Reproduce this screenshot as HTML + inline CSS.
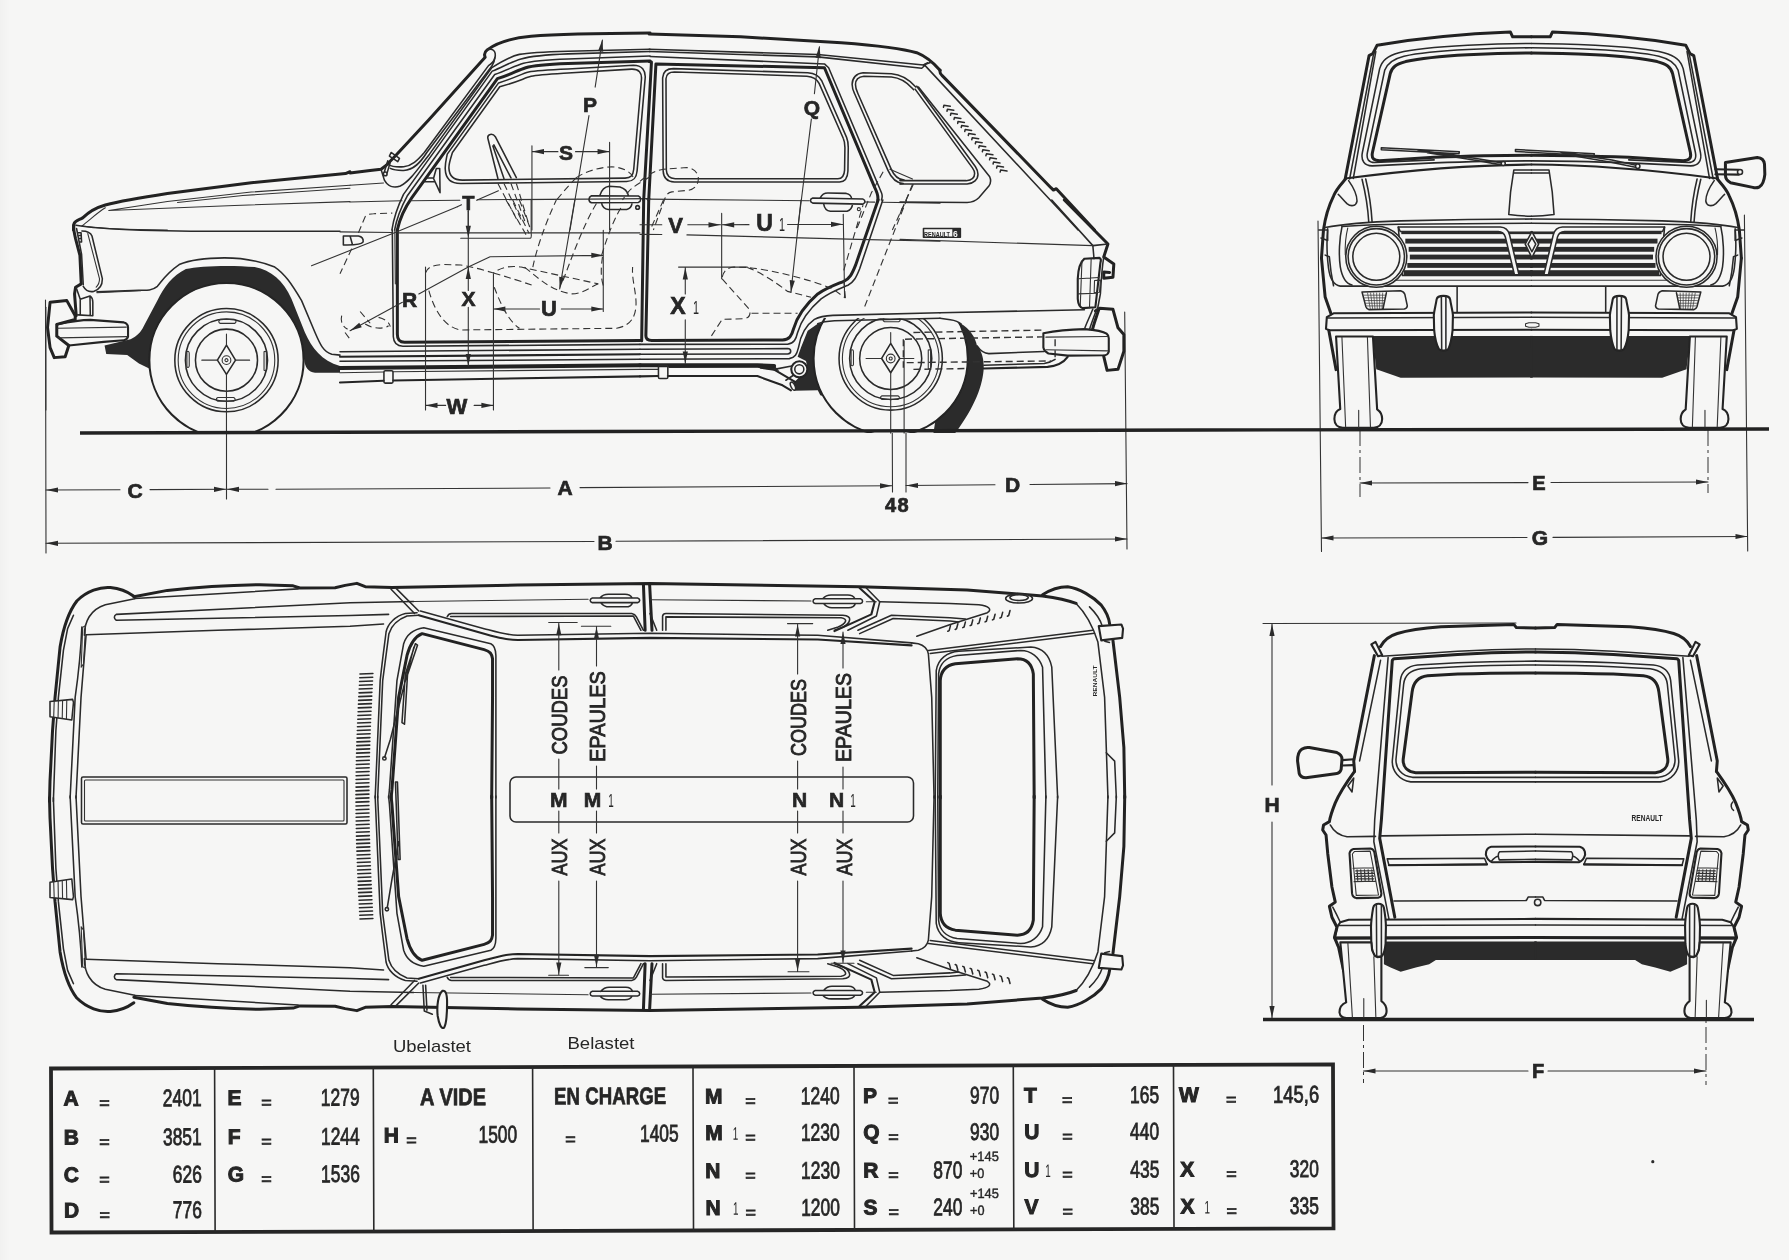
<!DOCTYPE html>
<html lang="fr">
<head>
<meta charset="utf-8">
<title>Renault 6 - dimensions</title>
<style>
html,body{margin:0;padding:0;background:#f6f6f5;}
body{width:1789px;height:1260px;overflow:hidden;}
svg{display:block;will-change:transform;}
svg *{vector-effect:non-scaling-stroke;}
.k{fill:none;stroke:#222;stroke-width:3;stroke-linecap:round;stroke-linejoin:round;}
.m{fill:none;stroke:#242424;stroke-width:2.1;stroke-linecap:round;stroke-linejoin:round;}
.n{fill:none;stroke:#2a2a2a;stroke-width:1.55;stroke-linecap:round;stroke-linejoin:round;}
.h{fill:none;stroke:#333;stroke-width:1.1;stroke-linecap:round;stroke-linejoin:round;}
.d{fill:none;stroke:#333;stroke-width:1.1;stroke-dasharray:7 4;}
.dd{fill:none;stroke:#333;stroke-width:1;stroke-dasharray:16 4 3 4;}
.f{fill:#2b2b2b;stroke:none;}
.w{fill:#f6f6f5;}
text{font-family:"Liberation Sans",sans-serif;fill:#262626;}
.b{font-weight:bold;stroke:#262626;stroke-width:0.7px;}
</style>
</head>
<body>
<svg width="1789" height="1260" viewBox="0 0 1789 1260">
<defs>
<path id="ar" d="M0,0 L-12,-2.6 L-12,2.6 Z"/>
<g id="wh">
<circle cx="0" cy="0" r="308" class="n"/>
<circle cx="0" cy="0" r="288" class="h"/>
<circle cx="0" cy="0" r="245" class="n"/>
<circle cx="0" cy="0" r="185" class="n"/>
<circle cx="0" cy="0" r="26" class="h"/>
<circle cx="0" cy="0" r="9" class="h"/>
<path class="n" d="M0,-90 L54,0 L0,85 L-54,0 Z"/>
<path class="h" d="M-147,0 L-54,0 M54,0 L138,0 M0,-155 L0,-90"/>
<path class="h" d="M-37,-243 L48,-243 C60,-237 60,-225 48,-219 L-37,-219 C-49,-225 -49,-237 -37,-243 Z M-52,223 L43,223 C55,229 55,240 43,245 L-52,245 C-64,240 -64,229 -52,223 Z M-236,-50 C-227,-55 -222,-50 -222,-40 L-222,35 C-224,45 -232,45 -236,40 Z M224,-50 C233,-55 238,-50 238,-40 L238,55 C236,65 228,65 224,60 Z"/>
</g>
</defs>
<rect x="0" y="0" width="1789" height="1260" fill="#f6f6f5"/>
<!-- 10_dims.svg -->
<g id="dims">
<!-- side view dimension lines -->
<path class="h" d="M45.5,300 L46,553"/>
<path class="h" d="M226.5,360 L226.5,499"/>
<path class="h" d="M892,360 L892.5,492"/>
<path class="h" d="M906,340 L906,492"/>
<path class="h" d="M1124.7,312 L1127,549"/>
<path class="h" d="M46,490 L120,489.7 M150,489.6 L226,489.3 M227,489.3 L268,489.2 M276,489.2 L550,488 M580,487.6 L892,485.8 M906,485.5 L995,484.8 M1030,484.5 L1127,483.6"/>
<path class="h" d="M46,543.3 L594,541.5 M616,541.3 L1127,539"/>
<g class="f">
<use href="#ar" transform="translate(46,490) rotate(180)"/>
<use href="#ar" transform="translate(226,489.3)"/>
<use href="#ar" transform="translate(227,489.3) rotate(180)"/>
<use href="#ar" transform="translate(892,485.8)"/>
<use href="#ar" transform="translate(906,485.5) rotate(180)"/>
<use href="#ar" transform="translate(1127,483.6)"/>
<use href="#ar" transform="translate(46,543.3) rotate(180)"/>
<use href="#ar" transform="translate(1127,539)"/>
</g>
<text class="b" x="135" y="497.5" font-size="21" text-anchor="middle">C</text>
<text class="b" x="565" y="495" font-size="21" text-anchor="middle">A</text>
<text class="b" x="1012.5" y="492" font-size="21" text-anchor="middle">D</text>
<text class="b" x="897.5" y="512" font-size="20" text-anchor="middle" letter-spacing="1.5">48</text>
<text class="b" x="605" y="550" font-size="21" text-anchor="middle">B</text>
<!-- front view dims -->
<path class="h" d="M1318,221 L1321.5,551.5"/>
<path class="h" d="M1744.4,215 L1747.7,551"/>
<path class="dd" d="M1360,430 L1360,497"/>
<path class="dd" d="M1708,430 L1708,493"/>
<path class="h" d="M1360,483 L1528,482.6 M1551,482.5 L1708,482"/>
<path class="h" d="M1321.5,538 L1527,537.5 M1553,537.4 L1747.5,536.5"/>
<g class="f">
<use href="#ar" transform="translate(1360,483) rotate(180)"/>
<use href="#ar" transform="translate(1708,482)"/>
<use href="#ar" transform="translate(1321.5,538) rotate(180)"/>
<use href="#ar" transform="translate(1747.5,536.5)"/>
</g>
<text class="b" x="1539" y="490" font-size="20" text-anchor="middle">E</text>
<text class="b" x="1540" y="545" font-size="21" text-anchor="middle">G</text>
<!-- rear view dims -->
<path class="h" d="M1263,623.5 L1516,623"/>
<path class="h" d="M1272,624 L1272,785 M1272,822 L1272,1018"/>
<path class="dd" d="M1363.5,998 L1363.5,1083"/>
<path class="dd" d="M1706,1000 L1706,1085"/>
<path class="h" d="M1363.5,1071 L1528,1071 M1548,1071 L1706,1071"/>
<g class="f">
<use href="#ar" transform="translate(1272,624) rotate(-90)"/>
<use href="#ar" transform="translate(1272,1018) rotate(90)"/>
<use href="#ar" transform="translate(1363.5,1071) rotate(180)"/>
<use href="#ar" transform="translate(1706,1071)"/>
</g>
<text class="b" x="1272" y="811.5" font-size="21" text-anchor="middle">H</text>
<text class="b" x="1538" y="1078" font-size="20" text-anchor="middle">F</text>
</g>
<defs><linearGradient id="lg" x1="0" x2="1" y1="0" y2="0"><stop offset="0" stop-color="#f1f1f0"/><stop offset="1" stop-color="#f6f6f5"/></linearGradient></defs>
<rect x="0" y="0" width="10" height="1260" fill="url(#lg)"/>
<circle cx="1652.8" cy="1161.7" r="1.6" class="f"/>

<!-- 20_side_a.svg -->
<!-- Z0: hood [50,20,350,230] -->
<g transform="translate(50,20) scale(0.16769)">
<path class="k" d="M1789,905 L1762,916 L1200,970 L700,1035 C550,1058 420,1080 330,1103 C270,1120 225,1150 195,1180 C175,1192 150,1195 143,1215 L140,1252"/>
<path class="h" d="M1789,985 L1200,1026 L700,1082 L350,1136 L1100,1106 L1789,1083"/>
<path class="h" d="M1789,1003 L1150,1047 L760,1088"/>
<path class="h" d="M330,1120 C280,1150 230,1200 190,1228 C300,1245 500,1250 700,1252"/>
</g>

<!-- 21_side_b.svg -->
<!-- Z1: A pillar [350,20,650,230] -->
<g transform="translate(350,20) scale(0.16769)">
<path class="k" d="M1789,78 C1500,80 1250,84 1080,97 C960,108 870,140 818,178 C800,192 800,208 806,222 L469,596 L274,806 L215,868 L185,890 L120,898 L0,912"/>
<path class="n" d="M818,178 C850,165 874,185 864,225 C858,250 842,262 826,272 L443,790 C400,840 370,868 320,875 C280,878 250,875 230,862"/>
<path class="n" d="M864,225 C862,250 852,264 845,276 L458,790 C420,850 380,895 320,897 C280,898 255,892 240,885"/>
<path class="n" d="M1789,175 L1300,186 C1150,190 1060,195 1010,205 C950,218 900,250 845,285 L474,800 C410,880 360,960 300,990 C260,1005 225,990 205,955 L185,890"/>
<path class="n" d="M1789,188 L1300,202 C1150,208 1070,218 1020,232 C965,248 920,275 848,305 L319,1040 C290,1100 262,1170 250,1252"/>
<path class="n" d="M1789,215 L1300,232 C1150,238 1080,245 1035,258 C985,272 940,298 863,325 L341,1050 C308,1110 279,1180 266,1252"/>
<path class="k" d="M1789,245 L1300,260 C1150,266 1090,272 1048,285 C1000,300 958,325 879,350 L368,1060 C326,1120 295,1190 282,1252"/>
<path class="n" d="M886,375 C985,345 1020,322 1065,310 C1110,300 1200,296 1300,292 L1690,270 C1740,270 1765,300 1760,350 L1712,900 C1708,945 1690,962 1650,963 L660,975 C600,975 570,945 568,890 C566,860 572,840 580,800 Z"/>
<path class="n" d="M893,398 C1005,368 1040,346 1080,336 C1120,326 1200,322 1300,316 L1680,293 C1722,292 1742,315 1738,355 L1692,890 C1688,928 1675,942 1640,943 L670,955 C618,955 592,930 590,885 C588,860 595,842 611,790 Z"/>
<path class="n" d="M245,790 L295,825 L285,845 L235,812 Z M225,840 L205,905 M240,848 L222,910"/>
<circle class="n" cx="210" cy="918" r="11"/>
<path class="n" d="M458,942 L500,942 M445,965 L500,965 M515,885 L535,885 L537,1030 C520,990 505,960 498,945 C505,920 510,900 515,885 Z"/>
<path class="h" d="M0,985 L200,972 M0,1085 L310,1078 M360,1078 L655,1075 M760,1072 L1420,1068 L1789,1065"/>
</g>
<!-- 22_side_c.svg -->
<!-- Z2: front end + wheel [40,200,340,410] -->
<g transform="translate(40,200) scale(0.16769)">
<!-- wheel well dark -->
<path class="f" d="M385,868 L540,830 C580,812 600,790 620,750 L700,600 C740,520 790,450 870,412 C950,392 1150,388 1280,400 C1380,420 1450,480 1500,590 L1580,790 C1620,880 1680,960 1789,990 L1789,1030 L1640,1030 C1600,1025 1580,1000 1575,950 L1112,955 L660,1010 L590,975 L520,925 L395,918 Z"/>
<!-- tire -->
<clipPath id="cpFW"><rect x="600" y="400" width="1100" height="992"/></clipPath>
<g clip-path="url(#cpFW)"><circle cx="1112" cy="955" r="460" class="w"/>
<circle cx="1112" cy="955" r="460" class="m"/></g>
<use href="#wh" transform="translate(1112,955)"/>
<path class="h" d="M1112,1040 L1112,1392"/>
<!-- fender arch outer line -->
<path class="n" d="M340,548 L590,538 C640,540 670,540 700,515 C730,480 750,440 830,385 C900,355 1000,345 1100,345 C1200,345 1300,360 1400,400 C1460,440 1500,500 1560,600 L1640,790 C1670,860 1690,905 1740,920 L1789,925"/>
<path class="h" d="M340,553 L600,541"/>
<!-- front face -->
<path class="k" d="M200,150 C200,180 205,200 212,230 L238,330 L246,500 L212,520 L206,560 L216,690"/>
<path class="n" d="M218,170 L248,325 L258,505"/>
<path class="n" d="M250,185 C280,185 300,190 310,215 L372,470 C372,510 355,535 320,545 C295,550 275,545 258,515"/>
<path class="h" d="M285,200 L355,470 C355,495 345,510 335,520"/>
<path class="n" d="M228,195 L245,195 L248,250 L235,250 M232,212 L246,212 M235,230 L247,230"/>
<!-- bumper bracket -->
<path class="n" d="M215,520 L240,592 L298,572 C310,580 315,595 315,610 L315,690 L225,685 M240,592 L240,680 M298,572 L300,688"/>
<!-- overrider -->
<path class="k" d="M60,610 L160,600 L210,690 L210,712 L100,742 L100,812 L172,868 L150,935 L85,940 L60,880 L45,760 Z"/>
<!-- bumper side -->
<path class="m" d="M100,742 C180,725 250,715 300,715 L500,730 C520,735 525,745 525,760 L525,815 C520,830 510,835 500,836 L380,846 L172,868"/>
<path class="h" d="M105,765 L515,758 M110,822 L520,815"/>
<!-- belt crease -->
<path class="n" d="M215,150 C300,165 400,172 600,180 L900,186 L1789,186"/>
<path class="h" d="M35,640 L35,1252"/>
</g>

<!-- 23_side_d.svg -->
<!-- Z3: front door lower [340,200,640,410] -->
<g transform="translate(340,200) scale(0.16769)">
<path class="k" d="M342,179 L342,800 C342,835 355,848 385,848 L1789,838"/>
<path class="n" d="M312,179 L318,815 C320,855 340,870 375,872 L1789,861"/>
<path class="h" d="M327,179 L330,500"/>
<!-- sill -->
<path class="n" d="M0,905 L1789,890"/>
<path class="m" d="M0,935 L1789,920"/>
<path class="n" d="M0,962 L1789,950"/>
<path class="k" style="stroke-width:4" d="M0,1002 L1789,985"/>
<path class="m" d="M0,1088 L260,1078 M318,1076 L1789,1052"/>
<path class="h" d="M0,1030 L260,1026 M318,1024 L1789,1010"/>
<rect class="n" x="262" y="1018" width="54" height="74" rx="8"/>
<!-- belt crease -->
<path class="h" d="M0,190 L312,194 M345,196 L1789,196"/>
<!-- dimension helpers -->
<path class="h" d="M510,400 L510,1252 M915,440 L915,1252 M765,60 L765,540 M765,640 L765,990 M720,228 L1135,228 C1142,225 1142,215 1140,200 L1140,0"/>
<path class="h" d="M60,780 L372,610 M470,560 L765,400 L895,338 L1570,330 M1570,180 L1570,665 M915,650 L1190,650 M1320,650 L1570,650 M510,1225 L630,1225 M800,1225 L915,1225"/>
<path class="h" d="M-170,392 L340,190 L700,40"/>
<path class="h" d="M1400,0 L1310,530"/>
<g class="f" transform="scale(5.963)">
<use href="#ar" transform="translate(128.3,37.7) rotate(90)"/>
<use href="#ar" transform="translate(128.3,67) rotate(-90)"/>
<use href="#ar" transform="translate(128.3,166) rotate(90)"/>
<use href="#ar" transform="translate(10,130.8) rotate(151)"/>
<use href="#ar" transform="translate(263.3,55.3)"/>
<use href="#ar" transform="translate(153.4,109) rotate(180)"/>
<use href="#ar" transform="translate(263.3,109)"/>
<use href="#ar" transform="translate(85.5,205.4) rotate(180)"/>
<use href="#ar" transform="translate(153.4,205.4)"/>
<use href="#ar" transform="translate(219.7,88.9) rotate(100)"/>
</g>
<!-- dashed: seats -->
<path class="d" d="M510,435 C520,400 560,385 620,385 L720,388 C800,400 860,420 915,435 C960,400 1020,390 1080,400 L1540,500"/>
<path class="d" d="M915,435 C1000,460 1080,485 1150,510 M530,540 C560,650 620,760 720,775 L1650,765 C1730,750 1770,700 1765,600 C1760,520 1740,470 1745,400 M920,520 C950,600 1000,720 1070,765"/>
<path class="d" d="M1150,400 C1170,300 1220,150 1290,0 M1330,480 C1380,350 1450,150 1530,20 M1560,330 C1600,200 1640,100 1680,40 M1100,400 C1200,480 1260,540 1380,560 C1450,560 1490,520 1540,500 M1570,510 C1550,450 1560,380 1565,340"/>
<path class="d" d="M110,195 L150,100 C160,85 180,82 200,82 L312,78 M70,290 L0,440 M990,0 L1120,225 M1030,0 L1128,200 M1070,0 L1135,170"/>
<path class="d" d="M10,690 C0,730 20,760 45,770 M120,665 L180,735 M150,740 C200,770 260,770 290,750 M230,700 C270,710 295,730 300,755 M30,790 L60,830"/>
<path class="n" d="M20,215 L110,215 C135,220 140,235 138,250 C130,265 100,270 20,268 Z M60,215 L75,268"/>
</g>
<g class="b" font-size="21">
<text x="468.3" y="210" text-anchor="middle" font-size="20">T</text>
<text x="409.5" y="306.5" text-anchor="middle">R</text>
<text x="468.5" y="305.5" text-anchor="middle">X</text>
<text x="549" y="316" text-anchor="middle" font-size="22">U</text>
<text x="457" y="414" text-anchor="middle" font-size="22">W</text>
</g>

<!-- 24_side_e.svg -->
<!-- Z4: rear door lower [640,200,940,410] -->
<g transform="translate(640,200) scale(0.16769)">
<clipPath id="cpRW"><path d="M900,700 L1789,708 L1920,735 L2100,735 L2100,1390 L900,1390 Z"/></clipPath>
<!-- dark areas -->
<path class="f" d="M960,880 L1000,780 L1060,738 L1200,715 L1200,1200 L1075,1165 L1060,1135 L920,1138 L905,1100 L1000,1010 L990,960 L940,935 Z"/>
<path class="f" d="M170,985 L800,985 L830,1020 L700,1000 L170,1002 Z"/>
<path class="f" d="M360,735 C420,770 450,820 460,870 C490,900 500,950 500,1000 C495,1100 450,1230 330,1390 L200,1390 L300,735 Z" transform="translate(1550,0)"/>
<g clip-path="url(#cpRW)">
<circle cx="1495" cy="945" r="460" class="w"/>
<circle cx="1495" cy="945" r="460" class="m"/>
<use href="#wh" transform="translate(1495,945)"/>
</g>
<path class="h" d="M1495,1030 L1495,1390 M1575,840 L1575,1390"/>
<!-- B pillar & rear door -->
<path class="k" d="M22,0 L10,840"/>
<path class="k" d="M52,0 L35,810 C35,830 45,838 70,838 L850,835 C890,832 905,810 915,770 C935,700 980,630 1060,560 C1120,520 1180,500 1215,485 C1250,470 1265,440 1285,390 L1420,0"/>
<path class="n" d="M0,861 L880,860 C920,855 930,830 940,790 C960,720 1005,655 1080,590 C1140,545 1200,525 1240,508 C1275,490 1290,460 1310,410 L1448,0"/>
<!-- sill -->
<path class="n" d="M0,890 L880,886 C905,888 905,916 880,918 L0,920"/>
<path class="n" d="M0,950 L890,946 C925,940 935,920 945,880 C955,820 985,750 1040,712 C1070,695 1100,690 1150,688 L1789,672"/>
<path class="n" d="M1060,738 C1090,725 1120,722 1160,720 L1789,705"/>
<path class="k" style="stroke-width:4" d="M0,985 L700,985 L800,990"/>
<path class="m" d="M0,1052 L108,1050 M166,1050 L700,1050 L850,1105 L900,1135 M720,1000 L800,1012 L925,1085"/>
<path class="h" d="M0,1010 L108,1010"/>
<rect class="n" x="110" y="985" width="56" height="80" rx="8"/>
<ellipse class="n" cx="912" cy="1110" rx="12" ry="26" transform="rotate(-25 912 1110)" style="fill:#f6f6f5"/>
<circle class="m" cx="950" cy="1010" r="48" style="fill:#f6f6f5"/>
<circle class="n" cx="950" cy="1010" r="27"/>
<path class="n" d="M905,990 L800,1010 M915,1045 L870,1075"/>
<!-- crease -->
<path class="h" d="M0,205 L130,206 M280,208 L1300,235 L1789,246"/>
<!-- dims -->
<path class="h" d="M487,80 L487,470 M1212,85 L1220,580 M270,400 L270,560 M270,715 L270,975 M230,400 L640,400 M0,148 L130,148 M285,148 L480,148 M490,148 L650,147 M880,146 L1210,145 M960,0 L900,550"/>
<g class="f" transform="scale(5.963)">
<use href="#ar" transform="translate(80.5,24.8)"/>
<use href="#ar" transform="translate(82.2,24.8) rotate(180)"/>
<use href="#ar" transform="translate(203,24.3)"/>
<use href="#ar" transform="translate(45.3,67.5) rotate(-90)"/>
<use href="#ar" transform="translate(45.3,163.5) rotate(90)"/>
<use href="#ar" transform="translate(151,92.3) rotate(96)"/>
</g>
<!-- dashed -->
<path class="d" d="M490,460 C500,420 520,405 560,400 L640,402 C800,420 1000,470 1150,530 L1225,585 M640,402 C720,430 820,500 880,545 L1020,580 M490,470 L650,650 C665,680 650,705 620,708 L490,712 L410,835 M665,675 L940,675 M1215,420 L1330,30 M1340,635 L1590,0 M140,0 L60,180 M1225,585 L1215,480"/>
</g>
<g class="b" font-size="21">
<text x="675.5" y="233" text-anchor="middle" font-size="22">V</text>
<text x="764.5" y="231" text-anchor="middle" font-size="23">U</text>
<text x="678" y="313.5" text-anchor="middle" font-size="23">X</text>
</g>
<text x="782" y="231" text-anchor="middle" font-size="19" textLength="6" lengthAdjust="spacingAndGlyphs">1</text>
<text x="696" y="314" text-anchor="middle" font-size="19" textLength="6" lengthAdjust="spacingAndGlyphs">1</text>

<!-- 25_side_f.svg -->
<!-- Z5: rear end lower [900,200,1200,410] -->
<g transform="translate(900,200) scale(0.16769)">
<path class="n" d="M238,672 L1100,655"/>
<path class="n" d="M238,705 L300,714 C330,718 350,726 365,740"/>
<path class="n" d="M460,870 C480,900 500,915 530,916 L860,903"/>
<path class="m" d="M500,1005 L880,995 C930,990 975,970 1000,935"/>
<path class="n" d="M500,985 L860,975 C890,970 910,960 925,950"/>
<!-- dashed tank -->
<path class="d" style="stroke-width:1.4" d="M80,790 L850,776 M30,830 L850,816 M40,970 L900,960 M80,1010 L400,1005 M20,830 L20,1000 M925,830 L925,950"/>
<!-- bumper side -->
<path class="m" d="M855,795 C930,780 1020,772 1100,770 C1170,775 1215,785 1232,797 C1242,805 1245,812 1245,825 L1245,905 C1240,920 1232,925 1220,926 L1000,928 L885,915 C865,905 858,895 855,880 Z"/>
<path class="h" d="M870,818 L1240,814 M870,893 L1240,900"/>
<!-- overrider -->
<path class="k" d="M1165,662 L1190,646 L1270,652 L1300,762 L1335,802 L1335,902 L1300,1010 L1235,1016 L1215,932"/>
<path class="n" d="M1150,650 C1130,700 1110,740 1100,770 M1172,655 C1155,700 1140,740 1130,772"/>
<path class="k" d="M1185,655 C1170,700 1155,740 1148,772"/>
<!-- tail -->
<path class="k" d="M980,0 L1240,262 L1215,340 L1275,382 L1270,460 L1215,466 L1215,430 L1250,432"/>
<path class="n" d="M905,0 L1150,272 L1157,350"/>
<path class="n" d="M1215,340 C1205,400 1200,470 1195,560 L1178,650"/>
<path class="n" d="M1150,272 L1240,262"/>
<!-- tail lamp -->
<path class="m" d="M1100,350 L1190,345 C1200,350 1200,360 1195,375 L1165,640 L1090,645 C1070,640 1062,620 1060,590 L1060,470 C1062,420 1075,370 1100,350 Z"/>
<path class="h" d="M1085,365 L1075,630 M1140,350 L1130,642 M1065,470 L1185,462 M1062,560 L1175,556 M1160,480 L1195,478 L1190,550 L1158,552 Z"/>
<!-- crease -->
<path class="h" d="M0,235 L650,256 L1150,272"/>
<!-- badge -->
<rect class="n" x="140" y="170" width="220" height="52" style="fill:#f6f6f5"/>
<rect class="f" x="312" y="172" width="46" height="48"/>
<path class="d" d="M0,85 L20,30"/>
</g>
<text x="924" y="236.8" font-size="8" font-weight="bold" textLength="26" lengthAdjust="spacingAndGlyphs">RENAULT</text>
<text x="953" y="237" font-size="8.5" font-weight="bold" style="fill:#f6f6f5">6</text>

<!-- 26_side_g.svg -->
<!-- Z6: rear door upper [640,20,940,230] -->
<g transform="translate(640,20) scale(0.16769)">
<path class="k" d="M55,84 L600,100 L1200,135 C1400,150 1550,165 1650,195 C1700,215 1750,255 1789,300"/>
<path class="n" d="M55,175 L1060,206 L1690,268 L1740,250 M55,188 L1060,220 L1680,288 L1700,270"/>
<path class="n" d="M60,218 L1100,262 L1125,285 L1440,1030 C1448,1050 1445,1060 1440,1073"/>
<path class="k" d="M68,258 L22,1073"/>
<path class="k" d="M68,250 L55,248"/>
<path class="k" d="M52,1073 L95,262 L1100,285 L1400,1000 C1415,1030 1422,1050 1418,1073"/>
<!-- rear door window -->
<path class="n" d="M200,290 L1000,315 C1045,318 1070,335 1085,365 L1232,700 C1240,720 1242,740 1242,760 L1240,900 C1238,945 1220,965 1190,966 L205,966 C165,964 140,940 138,900 L135,345 C137,310 160,290 200,290 Z"/>
<path class="n" d="M205,310 L995,335 C1035,338 1055,352 1068,378 L1212,705 C1220,722 1222,742 1222,760 L1220,895 C1218,930 1205,946 1180,947 L210,947 C178,945 158,925 157,895 L155,350 C157,325 175,310 205,310 Z"/>
<!-- rear quarter window -->
<path class="n" d="M1645,400 L1640,395 C1600,350 1560,325 1500,320 L1330,315 C1290,318 1265,345 1265,385 C1265,400 1270,420 1280,440 L1478,895 C1500,945 1530,972 1570,975 L1552,976"/>
<path class="n" d="M1632,416 L1625,408 C1590,370 1555,345 1500,340 L1335,335 C1302,338 1285,358 1285,385 C1285,400 1290,418 1298,435 L1496,885 C1515,930 1540,952 1575,955 L1552,956"/>
<path class="h" d="M1490,890 L1625,948"/>
<!-- handle -->
<path class="n" d="M1030,1062 L1330,1068 C1345,1075 1345,1090 1330,1098 L1030,1092 C1012,1085 1012,1068 1030,1062 Z M1075,1060 C1085,1040 1100,1032 1120,1032 L1230,1034 C1250,1038 1260,1050 1262,1065 M1095,1096 C1100,1125 1115,1138 1135,1140 L1235,1140 C1255,1135 1265,1120 1268,1098"/>
<circle class="h" cx="1305" cy="1128" r="9"/>
<!-- crease -->
<path class="h" d="M40,1068 L1010,1078 M1340,1085 L1400,1086 M1440,1087 L1789,1092"/>
<!-- Q -->
<path class="h" d="M1070,160 L1040,440 M1022,590 L940,1252"/>
<g class="f" transform="scale(5.963)"><use href="#ar" transform="translate(179.4,26) rotate(-84)"/></g>
<!-- dashed -->
<path class="d" d="M0,962 C50,920 100,895 140,890 L280,880 C330,885 350,920 348,950 C345,990 320,1010 290,1015 L190,1025 C165,1030 155,1045 150,1060 L80,1252 M1450,905 L1380,1030 L1290,1252 M1630,980 L1505,1252"/>
</g>
<text class="b" x="812" y="115" text-anchor="middle" font-size="21">Q</text>

<!-- 27_side_h.svg -->
<!-- Z7: rear upper [900,20,1200,230] -->
<g transform="translate(900,20) scale(0.16769)">
<path class="k" d="M239,300 C237,310 238,320 250,330 L262,342 L900,1000 L915,1014 L932,1006 L1160,1252"/>
<path class="n" d="M150,272 L1062,1252 M140,268 L165,255"/>
<path class="n" d="M110,400 L535,935 C545,955 540,975 530,990 L470,1060 C450,1080 430,1088 400,1088 L0,1085"/>
<path class="n" d="M0,978 L400,978 C440,975 465,950 465,920 C465,905 460,890 450,875 L100,395"/>
<path class="n" d="M0,958 L395,958 C425,955 445,940 445,915 C445,905 440,893 432,882 L90,412"/>
<path class="n" style="stroke-width:1.5" d="M259,520 L262,508 L300,514 M280,544 L283,532 L321,538 M301,568 L304,556 L342,562 M322,593 L325,581 L363,587 M344,617 L346,605 L384,611 M365,641 L368,629 L406,635 M386,665 L389,653 L427,659 M407,689 L410,677 L448,683 M428,714 L431,702 L469,708 M449,738 L452,726 L490,732 M470,762 L473,750 L511,756 M491,786 L494,774 L532,780 M512,810 L516,798 L554,804 M534,834 L537,822 L575,828 M555,859 L558,847 L596,853 M576,883 L579,871 L617,877 M597,907 L600,895 L638,901 "/>
<path class="d" d="M75,980 L0,1160"/>
</g>
<!-- 28_side_i.svg -->
<!-- Z1 lower: steering wheel, S, P, handle -->
<g transform="translate(350,20) scale(0.16769)">
<path class="n" d="M822,705 C818,680 850,672 868,698 L992,940 M822,705 L882,945 M852,752 L918,945 M858,745 L960,942"/>
<path class="d" d="M992,975 L1070,1230 M882,975 L1000,1200 M918,975 L1030,1210 M960,975 L1050,1220"/>
<path class="h" d="M1085,750 L1085,1252 M1548,730 L1548,1252 M1085,785 L1240,785 M1345,785 L1548,785"/>
<path class="h" d="M1505,120 L1462,400 M1425,570 L1312,1252"/>
<path class="h" d="M640,1113 L665,1102 M755,1075 L885,1018"/>
<path class="h" d="M705,1140 L705,1252"/>
<g class="f" transform="scale(5.963)">
<use href="#ar" transform="translate(182,131.6) rotate(180)"/>
<use href="#ar" transform="translate(259.6,131.6)"/>
<use href="#ar" transform="translate(252.5,19.5) rotate(-81)"/>
</g>
<!-- handle -->
<path class="n" d="M1440,1048 L1720,1050 C1738,1058 1738,1078 1720,1088 L1440,1090 C1420,1082 1420,1058 1440,1048 Z M1490,1046 C1500,1015 1520,995 1545,992 L1610,996 C1640,1005 1655,1025 1660,1046 M1500,1092 C1505,1115 1520,1128 1540,1130 L1650,1130 C1670,1125 1680,1110 1682,1092"/>
<circle class="n" cx="1715" cy="1118" r="11"/>
<path class="d" d="M1350,940 C1400,905 1480,880 1560,875 C1620,878 1670,900 1690,940 M1350,940 C1300,990 1260,1040 1232,1073 M1789,935 C1720,975 1680,1000 1660,1025 L1625,1073"/>
</g>
<text class="b" x="590" y="112" text-anchor="middle" font-size="21">P</text>
<text class="b" x="566" y="159.5" text-anchor="middle" font-size="21">S</text>

<!-- 30_front.svg -->
<!-- FRONT VIEW: F1 ext coords origin (1300,20) -->
<g transform="translate(1300,20) scale(0.16769)">
<g id="fvh">
<path class="f" d="M440,1884 L1386,1884 L1386,2132 L600,2134 L455,2082 L440,1952 Z"/>
<rect class="f" x="604" y="1261" width="778" height="16"/>
<rect class="f" x="628" y="1304" width="754" height="29"/>
<rect class="f" x="648" y="1353" width="734" height="29"/>
<rect class="f" x="655" y="1399" width="727" height="29"/>
<rect class="f" x="640" y="1449" width="742" height="29"/>
<rect class="f" x="618" y="1492" width="764" height="29"/>
<path class="n" style="fill:#f6f6f5" d="M586,1235 L1195,1235 C1228,1237 1242,1252 1250,1282 L1306,1520 L1279,1520 L1224,1292 C1217,1270 1207,1262 1182,1261 L598,1261 Z"/>
<path class="n" d="M586,1235 L611,1524 L1382,1524"/>
<path class="k" d="M1380,100 L1268,100 L1255,72 C1000,82 700,110 460,150 L435,200 L412,212 L270,945"/>
<path class="n" d="M440,196 L296,948 M452,188 L318,945"/>
<path class="n" d="M1380,140 C1250,140 1120,144 1000,150 C800,160 650,178 590,195 C520,215 490,240 475,290 L372,790 C362,840 385,868 430,870 L800,852 C1000,845 1200,840 1380,840"/>
<path class="n" d="M1380,166 C1250,166 1120,170 1000,176 C800,186 690,200 620,216 C555,232 520,258 505,300 L402,790 C394,830 410,850 445,850 L800,834"/>
<path class="k" d="M1380,197 C1250,197 1120,201 1000,207 C800,218 700,232 630,248 C575,262 548,280 538,320 L432,790 C425,825 440,840 475,840 L800,818 C1000,811 1200,806 1380,806"/>
<path class="m" d="M270,945 C500,915 900,864 1380,862"/>
<path class="k" d="M270,950 C240,985 215,1010 200,1050 C175,1100 150,1180 140,1252 L128,1420"/>
<path class="n" d="M290,958 C320,1000 340,1050 340,1080 C335,1110 305,1115 280,1095 C255,1070 240,1050 228,1040"/>
<path class="n" d="M370,950 C390,1030 405,1120 410,1205 M392,948 C412,1030 425,1120 430,1205"/>
<path class="n" d="M1380,895 L1275,895 C1265,950 1250,1050 1245,1160 C1300,1168 1340,1170 1380,1170 M1280,912 L1380,912"/>
<path class="n" d="M150,1238 C250,1218 400,1205 600,1198 L1000,1190 L1380,1187"/>
<path class="n" d="M165,1245 C160,1300 160,1400 170,1480 C178,1540 195,1580 240,1587 L1380,1587"/>
<path class="n" d="M250,1235 C235,1300 230,1400 240,1470 C250,1530 270,1570 310,1580"/>
<path class="h" d="M285,1240 C270,1300 268,1350 270,1400"/>
<path class="n" d="M250,1232 C400,1222 500,1218 600,1218 L1380,1212"/>
<path class="h" d="M560,1552 L1380,1552"/>
<circle class="n" cx="455" cy="1412" r="182" style="fill:#f6f6f5"/>
<circle class="n" cx="455" cy="1412" r="168" style="fill:#f6f6f5"/>
<circle class="n" cx="455" cy="1412" r="140" style="fill:#f6f6f5"/>
<path class="k" d="M128,1420 L150,1652 L185,1752"/>
<path class="n" d="M150,1402 L175,1412 L185,1502 L200,1585"/>
<path class="n" d="M112,1252 L165,1252 L165,1315 L125,1300"/>
<path class="n" d="M937,1592 L937,1742"/>
<path class="n" d="M370,1622 L600,1614 C615,1618 622,1625 625,1635 L640,1705 C638,1718 632,1722 622,1724 L410,1727 C400,1724 396,1718 393,1710 Z M515,1627 L495,1722"/>
<path class="h" style="stroke-width:0.7" d="M403,1628 L419,1722 M421,1628 L433,1722 M439,1628 L447,1722 M457,1628 L461,1722 M475,1628 L475,1722 M493,1628 L489,1722 M382,1641 L509,1641 M386,1657 L506,1657 M390,1673 L503,1673 M394,1689 L500,1689 M398,1705 L497,1705 "/>
<path class="m" d="M1380,1847 L175,1850 L155,1842 L160,1772 L200,1749 L1380,1744"/>
<path class="n" d="M165,1777 L1380,1773"/>
<path class="m" style="fill:#f6f6f5" d="M855,1645 C880,1645 892,1650 895,1665 C900,1700 910,1730 912,1760 L910,1850 C905,1900 895,1940 885,1962 C870,1975 840,1975 828,1962 C815,1940 805,1900 800,1850 L798,1760 C800,1730 810,1700 815,1665 C818,1650 830,1645 855,1645 Z"/>
<path class="n" d="M843,1650 L845,1968 M870,1650 L870,1968"/>
<path class="m" style="fill:#f6f6f5" d="M215,1887 L240,2320 C215,2330 205,2350 205,2380 C205,2410 225,2430 255,2432 L440,2432 C470,2430 490,2410 490,2380 C490,2350 480,2335 460,2322 L435,1887 Z"/>
<path class="h" d="M250,1890 L272,2425 M402,1890 L420,2425"/>
<path class="k" d="M172,1852 L215,2085"/>
</g>
<use href="#fvh" transform="translate(2760,0) scale(-1,1)"/>
<rect class="f" x="1372" y="1884" width="16" height="248"/>
<rect class="f" x="1372" y="1261" width="16" height="16"/>
<rect class="f" x="1372" y="1304" width="16" height="29"/>
<rect class="f" x="1372" y="1353" width="16" height="29"/>
<rect class="f" x="1372" y="1399" width="16" height="29"/>
<rect class="f" x="1372" y="1449" width="16" height="29"/>
<rect class="f" x="1372" y="1492" width="16" height="29"/>

<path class="n" style="fill:#f6f6f5" d="M1383,1262 L1423,1337 L1383,1417 L1343,1337 Z"/>
<path class="n" d="M1383,1297 L1406,1337 L1383,1382 L1360,1337 Z"/>
<path class="h" d="M1345,1812 L1365,1805 L1405,1805 L1425,1812 L1425,1826 L1405,1832 L1365,1832 L1345,1826 Z"/>
<path class="n" d="M485,762 L950,786 L948,798 L485,774 Z M700,775 L1060,828 L1205,852 M760,792 L1055,838 L1200,864"/>
<circle class="n" cx="1212" cy="856" r="12" style="fill:#f6f6f5"/>
<path class="n" d="M1285,772 L1755,797 L1753,809 L1285,784 Z M1555,788 L1860,835 L2005,866 M1620,808 L1855,848 L2000,878"/>
<circle class="n" cx="2014" cy="872" r="13" style="fill:#f6f6f5"/>
<path class="k" d="M2537,850 L2727,820 C2755,822 2768,840 2770,860 L2772,920 C2768,960 2755,985 2740,995 C2725,1003 2712,1002 2700,998 L2567,970 C2545,960 2537,945 2537,925 Z"/>
<path class="m" d="M2477,890 L2617,893 M2477,920 L2617,922"/>
<circle class="n" cx="2624" cy="906" r="15" style="fill:#f6f6f5"/>
<path class="h" d="M350,2327 L350,2445 M2415,2327 L2415,2445"/>
</g>
<!-- 40_top.svg -->
<!-- TOP VIEW: T coords origin (50,580) scale 1/5.963 -->
<g transform="translate(50,580) scale(0.16769)">
<g id="tvh">
<path class="k" d="M500,100 L700,62 C900,40 1100,30 1250,28 L1450,35 L1490,48 L1700,46 L1760,32 L1830,20 L1880,40 L2039,45 L2789,30 L3578,21 L4828,40 L5469,60 L5919,95 C6000,105 6070,120 6119,140"/>
<path class="n" d="M505,110 L900,88 L1480,53"/>
<path class="n" d="M205,330 C205,250 240,175 330,147 L505,112"/>
<path class="n" d="M2169,128 L1789,136 L395,205 C380,212 380,232 395,240 L1789,212 L2019,205"/>
<path class="n" d="M215,326 L1000,300 L1789,276 L1989,262"/>
<path class="n" d="M190,280 C185,400 170,560 150,700 L120,1300 M215,330 L185,700 L155,1300"/>
<path class="h" d="M195,282 L212,272 L200,500 L186,520 Z"/>
<path class="n" d="M1939,1300 L1941,1252 L1969,600 C1985,450 2000,350 2004,310 C2015,260 2060,215 2119,200 L2189,195"/>
<path class="n" d="M1954,1300 L1956,1252 L1984,600 L2021,320 C2035,275 2075,235 2129,215 L2199,210"/>
<path class="n" d="M2034,55 L2174,200 M2064,50 L2199,185"/>
<path class="n" d="M2209,185 L2589,290 C2680,315 2720,328 2789,330 L3578,318 L4578,330 L5138,375"/>
<path class="m" d="M2199,210 L2589,320 C2680,345 2720,356 2789,358 L3578,345 L4578,355 L5138,390"/>
<path class="k" d="M2034,1300 L2039,1252 L2079,700 L2129,450 C2145,390 2170,340 2219,320 L2589,415 C2625,425 2635,440 2639,470 L2639,700 L2634,1300"/>
<path class="n" d="M2019,1300 L2024,1252 L2069,600 L2109,380 C2125,330 2160,295 2229,285 L2629,380 C2650,390 2658,410 2659,450 L2659,1300"/>
<path class="n" d="M2369,218 C2375,205 2385,200 2395,200 L3469,200 C3485,203 3492,210 3497,220 L3539,300 M2389,218 L3479,215 L3524,300"/>
<path class="k" d="M3539,30 L3549,300 M3576,30 L3590,300"/>
<path class="n" d="M3578,200 L3618,300"/>
<path class="n" d="M3234,107 L3504,107 C3521,112 3521,130 3504,135 L3234,135 C3217,130 3217,112 3234,107 Z M3279,107 C3294,90 3309,85 3329,85 L3429,85 C3449,85 3464,93 3471,107 M3284,135 C3299,153 3314,160 3334,160 L3434,160 C3454,160 3469,150 3474,135"/>
<path class="n" d="M4563,112 L4833,112 C4850,117 4850,135 4833,140 L4563,140 C4546,135 4546,117 4563,112 Z M4608,112 C4623,95 4638,90 4658,90 L4758,90 C4778,90 4793,98 4800,112 M4613,140 C4628,158 4643,165 4663,165 L4763,165 C4783,165 4798,155 4803,140"/>
<path class="n" d="M3653,300 L3653,215 C3655,205 3663,200 3673,200 L4728,210 C4760,212 4772,225 4768,240 C4765,255 4750,270 4730,280 L4678,300"/>
<path class="n" d="M3673,300 L3673,220 L4718,225 C4740,228 4748,238 4743,248 C4738,260 4725,270 4700,280 L4638,300"/>
<path class="h" d="M2169,128 L3209,115 M3578,118 L4538,125 M4868,130 L4928,130"/>
<path class="m" d="M4828,48 L4918,130 L4898,205 L4678,305"/>
<path class="n" d="M4868,48 L4948,130 L4928,215 L4758,300"/>
<path class="n" d="M4948,130 L5367,140 L5539,148 C5600,155 5620,175 5590,195 L5369,265 L5169,335"/>
<path class="n" d="M4818,300 L5018,210 L5367,225 L5459,232 M4828,320 L5028,230 L5367,245 L5420,250"/>
<path class="n" d="M5354,306 L5362,302 L5370,272 M5398,295 L5406,291 L5414,261 M5443,284 L5451,280 L5459,250 M5487,272 L5495,268 L5503,238 M5532,261 L5540,257 L5548,227 M5576,250 L5584,246 L5592,216 M5620,238 L5628,234 L5636,204 M5665,227 L5673,223 L5681,193 M5709,216 L5717,212 L5725,182 "/>
<path class="n" d="M5138,375 L5178,380 C5215,390 5232,410 5238,440 L5258,700 L5272,1300"/>
<path class="n" d="M5239,420 L6219,300 M5249,438 L6229,318"/>
<path class="k" d="M5309,1300 L5309,600 C5312,550 5340,510 5399,500 L5769,470 C5820,470 5855,500 5864,560 L5869,1300"/>
<path class="n" d="M5294,1300 L5299,560 C5305,500 5345,460 5409,450 L5789,420 C5850,420 5900,460 5919,520 L5939,1300"/>
<path class="n" d="M5279,1300 L5285,540 C5295,470 5350,430 5420,425 L5849,400 C5920,405 5960,450 5974,520 L6009,1300"/>
<path class="n" d="M6119,140 C6180,200 6220,280 6249,370 L6289,700 L6309,1300"/>
<path class="k" d="M5919,88 C5969,55 6019,40 6069,40 C6140,50 6220,100 6269,150 C6300,190 6315,230 6319,262"/>
<path class="m" style="fill:#f6f6f5" d="M6254,275 L6389,265 L6399,290 L6394,345 L6269,360 Z"/>
<path class="k" d="M6339,362 L6379,700 L6404,1000 L6409,1300"/>
<path class="n" d="M6290,365 L6318,372 M6199,160 C6240,200 6265,240 6275,275"/>
<path class="n" d="M6299,1030 L6349,1080 L6359,1300"/>
</g>
<g id="tvb">
<path class="k" d="M-3,1320 L0,1200 L15,900 L30,700 L60,400 C80,280 110,190 160,125 C220,65 300,40 360,45 C420,50 470,75 500,97"/>
<path class="n" d="M20,1320 L35,900 L50,700 L80,420 L105,290 L140,210"/>
<path class="n" style="fill:#f6f6f5" d="M0,725 L135,712 L140,730 L130,835 L0,815 Z"/>
<path class="h" d="M25,725 L22,818 M50,722 L48,822 M75,720 L73,826 M100,717 L98,830"/>
</g>
<use href="#tvb" transform="translate(0,2618) scale(1,-1)"/>
<ellipse class="n" cx="5779" cy="110" rx="80" ry="27" style="fill:#f6f6f5"/>
<ellipse class="n" cx="5779" cy="105" rx="55" ry="17"/>
<use href="#tvh" transform="translate(0,2588) scale(1,-1)"/>
<path class="n" d="M2179,380 L2119,560 L2099,850 L2114,860 L2132,565 L2192,388 Z M2170,400 L2030,950 L1996,1056"/>
<circle class="n" cx="1994" cy="1064" r="10"/>
<path class="n" d="M2060,1205 L2072,1205 L2088,1667 L2076,1667 Z M2080,1560 L2040,1780 L2011,1955"/>
<circle class="n" cx="2009" cy="1963" r="10"/>
<path class="n" style="stroke-width:1.6" d="M1848.5,560.5 L1925.5,557.5 M1847.4,583.0 L1924.3,580.0 M1846.2,605.5 L1923.2,602.5 M1845.1,628.0 L1922.0,625.0 M1843.9,650.4 L1920.9,647.4 M1842.8,672.9 L1919.7,669.9 M1841.7,695.4 L1918.6,692.4 M1840.6,717.9 L1917.5,714.9 M1839.5,740.4 L1916.5,737.4 M1838.5,762.8 L1915.4,759.8 M1837.4,785.3 L1914.4,782.3 M1836.4,807.8 L1913.4,804.8 M1835.5,830.3 L1912.4,827.3 M1834.5,852.8 L1911.4,849.8 M1833.6,875.2 L1910.5,872.2 M1832.7,897.7 L1909.6,894.7 M1831.9,920.2 L1908.8,917.2 M1831.1,942.7 L1908.0,939.7 M1830.3,965.2 L1907.2,962.2 M1829.6,987.7 L1906.5,984.7 M1828.9,1010.1 L1905.8,1007.1 M1828.3,1032.6 L1905.2,1029.6 M1827.7,1055.1 L1904.6,1052.1 M1827.1,1077.6 L1904.1,1074.6 M1826.7,1100.1 L1903.6,1097.1 M1826.2,1122.5 L1903.2,1119.5 M1825.8,1145.0 L1902.8,1142.0 M1825.5,1167.5 L1902.4,1164.5 M1825.2,1190.0 L1902.2,1187.0 M1825.0,1212.5 L1901.9,1209.5 M1824.9,1234.9 L1901.8,1231.9 M1824.7,1257.4 L1901.7,1254.4 M1824.7,1279.9 L1901.6,1276.9 M1824.7,1302.4 L1901.6,1299.4 M1824.7,1324.9 L1901.7,1321.9 M1824.9,1347.3 L1901.8,1344.3 M1825.0,1369.8 L1901.9,1366.8 M1825.2,1392.3 L1902.2,1389.3 M1825.5,1414.8 L1902.4,1411.8 M1825.8,1437.3 L1902.8,1434.3 M1826.2,1459.7 L1903.2,1456.7 M1826.7,1482.2 L1903.6,1479.2 M1827.1,1504.7 L1904.1,1501.7 M1827.7,1527.2 L1904.6,1524.2 M1828.3,1549.7 L1905.2,1546.7 M1828.9,1572.1 L1905.8,1569.1 M1829.6,1594.6 L1906.5,1591.6 M1830.3,1617.1 L1907.2,1614.1 M1831.1,1639.6 L1908.0,1636.6 M1831.9,1662.1 L1908.8,1659.1 M1832.7,1684.5 L1909.6,1681.5 M1833.6,1707.0 L1910.5,1704.0 M1834.5,1729.5 L1911.4,1726.5 M1835.5,1752.0 L1912.4,1749.0 M1836.4,1774.5 L1913.4,1771.5 M1837.4,1797.0 L1914.4,1794.0 M1838.5,1819.4 L1915.4,1816.4 M1839.5,1841.9 L1916.5,1838.9 M1840.6,1864.4 L1917.5,1861.4 M1841.7,1886.9 L1918.6,1883.9 M1842.8,1909.4 L1919.7,1906.4 M1843.9,1931.8 L1920.9,1928.8 M1845.1,1954.3 L1922.0,1951.3 M1846.2,1976.8 L1923.2,1973.8 M1847.4,1999.3 L1924.3,1996.3 M1848.5,2021.8 L1925.5,2018.8 "/>
<path class="n" d="M2224,2417 L2232,2570 L2280,2590 M2240,2417 L2248,2565"/>
<path class="m" style="fill:#f6f6f5" d="M2340,2450 C2360,2445 2368,2470 2368,2520 C2368,2580 2362,2650 2350,2670 C2335,2680 2320,2650 2312,2600 C2305,2540 2315,2470 2340,2450 Z"/>
</g>
<rect class="n" x="510" y="777" width="403.5" height="45" rx="6"/>
<rect class="n" x="81.5" y="777" width="265.5" height="47" rx="1.5"/>
<rect class="h" x="84.5" y="780" width="259.5" height="41" rx="1"/>
<text style="stroke:#262626;stroke-width:0.9px" transform="translate(567.0,715.0) rotate(-90)" text-anchor="middle" font-size="22.5" textLength="79.0" lengthAdjust="spacingAndGlyphs">COUDES</text>
<text style="stroke:#262626;stroke-width:0.9px" transform="translate(604.7,716.5) rotate(-90)" text-anchor="middle" font-size="22.5" textLength="91.0" lengthAdjust="spacingAndGlyphs">EPAULES</text>
<text style="stroke:#262626;stroke-width:0.9px" transform="translate(805.8,717.5) rotate(-90)" text-anchor="middle" font-size="22.5" textLength="77.0" lengthAdjust="spacingAndGlyphs">COUDES</text>
<text style="stroke:#262626;stroke-width:0.9px" transform="translate(851.2,717.5) rotate(-90)" text-anchor="middle" font-size="22.5" textLength="89.0" lengthAdjust="spacingAndGlyphs">EPAULES</text>
<text style="stroke:#262626;stroke-width:0.9px" transform="translate(567.0,857.0) rotate(-90)" text-anchor="middle" font-size="22.5" textLength="37.0" lengthAdjust="spacingAndGlyphs">AUX</text>
<text style="stroke:#262626;stroke-width:0.9px" transform="translate(604.7,857.0) rotate(-90)" text-anchor="middle" font-size="22.5" textLength="37.0" lengthAdjust="spacingAndGlyphs">AUX</text>
<text style="stroke:#262626;stroke-width:0.9px" transform="translate(806.2,857.0) rotate(-90)" text-anchor="middle" font-size="22.5" textLength="37.0" lengthAdjust="spacingAndGlyphs">AUX</text>
<text style="stroke:#262626;stroke-width:0.9px" transform="translate(851.5,857.0) rotate(-90)" text-anchor="middle" font-size="22.5" textLength="37.0" lengthAdjust="spacingAndGlyphs">AUX</text>
<g class="b" font-size="21" text-anchor="middle"><text x="558.7" y="806.5">M</text><text x="592.5" y="806.5">M</text><text x="799.6" y="806.5">N</text><text x="836.5" y="806.5">N</text></g>
<text x="611" y="806.5" font-size="18" text-anchor="middle" textLength="5.5" lengthAdjust="spacingAndGlyphs">1</text>
<text x="853" y="806.5" font-size="18" text-anchor="middle" textLength="5.5" lengthAdjust="spacingAndGlyphs">1</text>
<path class="h" d="M558.8,623.3 L558.8,670.0 M558.8,759.0 L558.8,789.0 M558.8,811.0 L558.8,833.0 M558.8,881.0 L558.8,974.4 M548.7,622.5 L577.2,622.5 M548.7,975.2 L568.5,975.2 M596.5,627.0 L596.5,666.0 M596.5,766.0 L596.5,789.0 M596.5,811.0 L596.5,833.0 M596.5,881.0 L596.5,966.8 M581.4,626.2 L610.8,626.2 M584.8,967.6 L608.3,967.6 M797.6,624.4 L797.6,674.0 M797.6,761.0 L797.6,789.0 M797.6,811.0 L797.6,833.0 M797.6,881.0 L797.6,970.9 M787.5,623.6 L812.7,623.6 M788.0,971.7 L809.0,971.7 M843.0,632.0 L843.0,668.0 M843.0,767.0 L843.0,789.0 M843.0,811.0 L843.0,833.0 M843.0,881.0 L843.0,962.5 M831.0,963.3 L854.0,963.3 "/>
<g class="f"><use href="#ar" transform="translate(558.8,623.3) rotate(-90)"/><use href="#ar" transform="translate(558.8,974.4) rotate(90)"/><use href="#ar" transform="translate(596.5,627.0) rotate(-90)"/><use href="#ar" transform="translate(596.5,966.8) rotate(90)"/><use href="#ar" transform="translate(797.6,624.4) rotate(-90)"/><use href="#ar" transform="translate(797.6,970.9) rotate(90)"/><use href="#ar" transform="translate(843.0,632.0) rotate(-90)"/><use href="#ar" transform="translate(843.0,962.5) rotate(90)"/></g>
<text transform="translate(1097,681) rotate(-90)" font-size="5.5" font-weight="bold" text-anchor="middle" textLength="31" lengthAdjust="spacingAndGlyphs">RENAULT</text>
<!-- 50_rear.svg -->
<!-- REAR VIEW: R coords origin (1290,610) -->
<g transform="translate(1290,610) scale(0.16769)">
<g id="rvh">
<path class="f" d="M560,1977 L1469,1977 L1469,2087 L870,2087 L830,2112 L750,2132 L660,2157 L600,2132 L560,2112 Z"/>
<path class="k" d="M1464,108 L1350,105 L1335,86 L900,100 C800,108 700,122 640,140 C590,155 560,180 540,218"/>
<path class="m" style="fill:#f6f6f5" d="M485,205 L510,190 L550,270 L525,276 Z"/>
<path class="k" d="M503,272 L380,900 L385,962"/>
<path class="n" d="M540,300 L415,900"/>
<path class="k" d="M385,962 C350,1010 300,1080 270,1150 C250,1200 238,1240 235,1262 L200,1282 L195,1312 L215,1342 L225,1452 L250,1652 L270,1742 L235,1767 L250,1832 L280,1892 L265,1952 L290,2012 L320,2152"/>
<path class="n" d="M345,1050 L380,1002 L370,1085 Z"/>
<path class="k" d="M1464,250 C1300,250 1150,255 1000,265 L620,290 L610,300 L545,1252 L535,1362 L625,1832"/>
<path class="n" d="M1464,232 C1300,232 1150,237 1000,246 L548,276 M585,284 L505,1252 L500,1382 L590,1842"/>
<path class="n" d="M1464,305 C1300,305 1150,308 1000,315 L760,328 C700,335 665,365 658,420 L610,900 C608,960 650,1015 720,1025 L1464,1025"/>
<path class="n" d="M1464,328 C1300,328 1150,331 1000,338 L780,350 C720,358 685,385 678,440 L632,890 C630,945 665,990 730,998 L1464,998"/>
<path class="k" d="M1464,375 C1300,375 1150,377 1000,382 L820,392 C765,398 735,430 728,490 L675,890 C672,935 700,965 750,970 L1464,968"/>
<path class="n" d="M240,1282 C260,1320 290,1345 340,1352 L510,1350 M545,1347 L1464,1337"/>
<path class="m" d="M378,1425 L480,1422 C495,1425 500,1432 503,1445 L545,1690 C545,1705 540,1712 528,1715 L395,1718 C380,1715 372,1705 370,1690 L355,1450 C358,1435 365,1428 378,1425 Z"/>
<path class="h" d="M385,1440 L478,1438 L528,1700 L395,1702 L372,1455 Z M376,1540 L498,1537 M382,1620 L512,1617"/>
<path class="h" style="stroke-width:1.2" d="M400,1550 L404,1612 M422,1550 L426,1612 M444,1550 L448,1612 M466,1550 L470,1612 M488,1550 L492,1612 M392,1556 L500,1555 M392,1572 L500,1571 M392,1588 L500,1587 M392,1604 L500,1603 "/>
<path class="n" d="M580,1484 L1160,1480 L1175,1517 L590,1522 Z"/>
<path class="m" d="M590,1522 L1175,1517"/>
<path class="m" d="M1464,1410 L1200,1412 C1185,1415 1175,1425 1170,1440 L1168,1460 C1175,1485 1190,1500 1205,1504 L1464,1502"/>
<path class="n" d="M1464,1437 L1250,1442 C1242,1450 1240,1470 1248,1490 L1464,1487 M1200,1500 C1215,1480 1225,1470 1240,1468"/>
<path class="n" d="M620,1735 L1410,1732 L1420,1712 L1464,1712"/>
<path class="m" d="M1464,1842 L350,1847 L300,1862 L280,1892 L268,1952 L1464,1955"/>
<path class="n" d="M285,1882 L1464,1878"/>
<path class="k" d="M268,1957 L1464,1953"/>
<path class="n" d="M255,1772 C270,1800 285,1830 300,1862"/>
<path class="m" style="fill:#f6f6f5" d="M528,1752 C548,1752 556,1760 560,1775 C566,1810 572,1850 572,1890 L570,1990 C566,2030 560,2050 550,2062 C540,2070 515,2070 505,2062 C495,2050 488,2030 485,1990 L483,1890 C484,1850 490,1810 496,1775 C500,1760 508,1752 528,1752 Z"/>
<path class="n" d="M515,1758 L517,2066 M545,1758 L545,2066"/>
<path class="m" style="fill:#f6f6f5" d="M300,1982 L335,2340 C305,2352 295,2372 295,2400 C297,2420 312,2432 335,2434 L540,2434 C562,2430 576,2415 576,2392 C576,2365 565,2345 545,2332 L545,2068 L520,2070 L505,2062 L490,2030 L485,1982 Z"/>
<path class="h" d="M345,1985 L372,2428 M500,2068 L512,2428"/>
</g>
<use href="#rvh" transform="translate(2928,0) scale(-1,1)"/>
<rect class="f" x="1456" y="1977" width="16" height="110"/>
<circle class="n" cx="1477" cy="1744" r="19"/>
<path class="k" d="M70,830 C85,820 100,818 115,820 L280,850 C300,858 310,870 310,890 L305,950 C300,968 288,975 270,977 L95,1000 C75,1000 60,992 55,975 L45,900 C45,865 52,842 70,830 Z"/>
<path class="m" d="M310,895 L382,890 M310,927 L378,925"/>
<path class="n" d="M2640,1145 C2625,1160 2630,1185 2645,1195"/>
<path class="h" d="M440,2317 L440,2440 M2483,2327 L2483,2440"/>
</g>
<text x="1647" y="820.5" font-size="8.5" font-weight="bold" text-anchor="middle" textLength="31" lengthAdjust="spacingAndGlyphs">RENAULT</text>
<!-- 60_ground.svg -->
<g id="ground">
<!-- ground lines -->
<path class="k" style="stroke-width:3.4;stroke-linecap:butt" d="M80,433 L600,431.5 L1200,430 L1769,429"/>
<path class="k" style="stroke-width:3.4;stroke-linecap:butt" d="M1263,1019.5 L1754,1019.5"/>
</g>

<!-- 90_table.svg -->
<g id="table" transform="rotate(-0.18 51 1068)">
<rect x="51" y="1068.5" width="1282" height="164" fill="none" stroke="#262626" stroke-width="3.8"/>
<path class="n" style="stroke-width:1.6" d="M214.6,1069 L214.6,1232"/>
<path class="n" style="stroke-width:1.6" d="M373.3,1069 L373.3,1232"/>
<path class="n" style="stroke-width:1.6" d="M532.6,1069 L532.6,1232"/>
<path class="n" style="stroke-width:1.6" d="M693.0,1069 L693.0,1232"/>
<path class="n" style="stroke-width:1.6" d="M854.0,1069 L854.0,1232"/>
<path class="n" style="stroke-width:1.6" d="M1013.3,1069 L1013.3,1232"/>
<path class="n" style="stroke-width:1.6" d="M1173.5,1069 L1173.5,1232"/>
<text class="b" style="stroke-width:1px" x="63.5" y="1105.5" font-size="21">A</text>
<text x="99.0" y="1109.0" font-size="17" textLength="10.5" lengthAdjust="spacingAndGlyphs" style="stroke:#262626;stroke-width:0.8px">=</text>
<text x="201.5" y="1106.5" font-size="24" text-anchor="end" textLength="38.8" lengthAdjust="spacingAndGlyphs" style="stroke:#262626;stroke-width:0.8px">2401</text>
<text class="b" style="stroke-width:1px" x="63.5" y="1144.5" font-size="21">B</text>
<text x="99.0" y="1148.0" font-size="17" textLength="10.5" lengthAdjust="spacingAndGlyphs" style="stroke:#262626;stroke-width:0.8px">=</text>
<text x="201.5" y="1145.5" font-size="24" text-anchor="end" textLength="38.8" lengthAdjust="spacingAndGlyphs" style="stroke:#262626;stroke-width:0.8px">3851</text>
<text class="b" style="stroke-width:1px" x="63.5" y="1182.0" font-size="21">C</text>
<text x="99.0" y="1185.5" font-size="17" textLength="10.5" lengthAdjust="spacingAndGlyphs" style="stroke:#262626;stroke-width:0.8px">=</text>
<text x="201.5" y="1183.0" font-size="24" text-anchor="end" textLength="29.1" lengthAdjust="spacingAndGlyphs" style="stroke:#262626;stroke-width:0.8px">626</text>
<text class="b" style="stroke-width:1px" x="63.5" y="1217.5" font-size="21">D</text>
<text x="99.0" y="1221.0" font-size="17" textLength="10.5" lengthAdjust="spacingAndGlyphs" style="stroke:#262626;stroke-width:0.8px">=</text>
<text x="201.5" y="1218.5" font-size="24" text-anchor="end" textLength="29.1" lengthAdjust="spacingAndGlyphs" style="stroke:#262626;stroke-width:0.8px">776</text>
<text class="b" style="stroke-width:1px" x="227.5" y="1105.5" font-size="21">E</text>
<text x="261.0" y="1109.0" font-size="17" textLength="10.5" lengthAdjust="spacingAndGlyphs" style="stroke:#262626;stroke-width:0.8px">=</text>
<text x="359.5" y="1106.5" font-size="24" text-anchor="end" textLength="38.8" lengthAdjust="spacingAndGlyphs" style="stroke:#262626;stroke-width:0.8px">1279</text>
<text class="b" style="stroke-width:1px" x="227.5" y="1144.5" font-size="21">F</text>
<text x="261.0" y="1148.0" font-size="17" textLength="10.5" lengthAdjust="spacingAndGlyphs" style="stroke:#262626;stroke-width:0.8px">=</text>
<text x="359.5" y="1145.5" font-size="24" text-anchor="end" textLength="38.8" lengthAdjust="spacingAndGlyphs" style="stroke:#262626;stroke-width:0.8px">1244</text>
<text class="b" style="stroke-width:1px" x="227.5" y="1182.0" font-size="21">G</text>
<text x="261.0" y="1185.5" font-size="17" textLength="10.5" lengthAdjust="spacingAndGlyphs" style="stroke:#262626;stroke-width:0.8px">=</text>
<text x="359.5" y="1183.0" font-size="24" text-anchor="end" textLength="38.8" lengthAdjust="spacingAndGlyphs" style="stroke:#262626;stroke-width:0.8px">1536</text>
<text class="b" x="453" y="1106.5" font-size="24" text-anchor="middle" textLength="66" lengthAdjust="spacingAndGlyphs">A VIDE</text>
<text class="b" style="stroke-width:1px" x="383.5" y="1143.5" font-size="21">H</text>
<text x="406.0" y="1147.0" font-size="17" textLength="10.5" lengthAdjust="spacingAndGlyphs" style="stroke:#262626;stroke-width:0.8px">=</text>
<text x="517.0" y="1144.0" font-size="24" text-anchor="end" textLength="38.8" lengthAdjust="spacingAndGlyphs" style="stroke:#262626;stroke-width:0.8px">1500</text>
<text class="b" x="610" y="1106" font-size="24" text-anchor="middle" textLength="112" lengthAdjust="spacingAndGlyphs">EN CHARGE</text>
<text x="565.0" y="1146.5" font-size="17" textLength="10.5" lengthAdjust="spacingAndGlyphs" style="stroke:#262626;stroke-width:0.8px">=</text>
<text x="678.5" y="1143.5" font-size="24" text-anchor="end" textLength="38.8" lengthAdjust="spacingAndGlyphs" style="stroke:#262626;stroke-width:0.8px">1405</text>
<text class="b" style="stroke-width:1px" x="705.0" y="1105.5" font-size="21">M</text>
<text x="745.0" y="1109.0" font-size="17" textLength="10.5" lengthAdjust="spacingAndGlyphs" style="stroke:#262626;stroke-width:0.8px">=</text>
<text x="839.5" y="1106.5" font-size="24" text-anchor="end" textLength="38.8" lengthAdjust="spacingAndGlyphs" style="stroke:#262626;stroke-width:0.8px">1240</text>
<text class="b" style="stroke-width:1px" x="705.0" y="1142.0" font-size="21">M</text>
<text x="732.5" y="1142.0" font-size="18" textLength="5.5" lengthAdjust="spacingAndGlyphs">1</text>
<text x="745.0" y="1145.5" font-size="17" textLength="10.5" lengthAdjust="spacingAndGlyphs" style="stroke:#262626;stroke-width:0.8px">=</text>
<text x="839.5" y="1143.0" font-size="24" text-anchor="end" textLength="38.8" lengthAdjust="spacingAndGlyphs" style="stroke:#262626;stroke-width:0.8px">1230</text>
<text class="b" style="stroke-width:1px" x="705.0" y="1180.0" font-size="21">N</text>
<text x="745.0" y="1183.5" font-size="17" textLength="10.5" lengthAdjust="spacingAndGlyphs" style="stroke:#262626;stroke-width:0.8px">=</text>
<text x="839.5" y="1181.0" font-size="24" text-anchor="end" textLength="38.8" lengthAdjust="spacingAndGlyphs" style="stroke:#262626;stroke-width:0.8px">1230</text>
<text class="b" style="stroke-width:1px" x="705.0" y="1217.0" font-size="21">N</text>
<text x="732.5" y="1217.0" font-size="18" textLength="5.5" lengthAdjust="spacingAndGlyphs">1</text>
<text x="745.0" y="1220.5" font-size="17" textLength="10.5" lengthAdjust="spacingAndGlyphs" style="stroke:#262626;stroke-width:0.8px">=</text>
<text x="839.5" y="1218.0" font-size="24" text-anchor="end" textLength="38.8" lengthAdjust="spacingAndGlyphs" style="stroke:#262626;stroke-width:0.8px">1200</text>
<text class="b" style="stroke-width:1px" x="863.0" y="1105.5" font-size="21">P</text>
<text x="888.0" y="1109.0" font-size="17" textLength="10.5" lengthAdjust="spacingAndGlyphs" style="stroke:#262626;stroke-width:0.8px">=</text>
<text x="999.0" y="1106.5" font-size="24" text-anchor="end" textLength="29.1" lengthAdjust="spacingAndGlyphs" style="stroke:#262626;stroke-width:0.8px">970</text>
<text class="b" style="stroke-width:1px" x="863.0" y="1142.0" font-size="21">Q</text>
<text x="888.0" y="1145.5" font-size="17" textLength="10.5" lengthAdjust="spacingAndGlyphs" style="stroke:#262626;stroke-width:0.8px">=</text>
<text x="999.0" y="1143.0" font-size="24" text-anchor="end" textLength="29.1" lengthAdjust="spacingAndGlyphs" style="stroke:#262626;stroke-width:0.8px">930</text>
<text class="b" style="stroke-width:1px" x="863.0" y="1180.0" font-size="21">R</text>
<text x="888.0" y="1183.5" font-size="17" textLength="10.5" lengthAdjust="spacingAndGlyphs" style="stroke:#262626;stroke-width:0.8px">=</text>
<text x="962.0" y="1181.0" font-size="24" text-anchor="end" textLength="29.1" lengthAdjust="spacingAndGlyphs" style="stroke:#262626;stroke-width:0.8px">870</text>
<text x="969.5" y="1164.0" font-size="13.5" style="stroke:#262626;stroke-width:0.4px" textLength="29" lengthAdjust="spacingAndGlyphs">+145</text>
<text x="969.5" y="1181.0" font-size="13.5" style="stroke:#262626;stroke-width:0.4px" textLength="14.5" lengthAdjust="spacingAndGlyphs">+0</text>
<text class="b" style="stroke-width:1px" x="863.0" y="1217.0" font-size="21">S</text>
<text x="888.0" y="1220.5" font-size="17" textLength="10.5" lengthAdjust="spacingAndGlyphs" style="stroke:#262626;stroke-width:0.8px">=</text>
<text x="962.0" y="1218.0" font-size="24" text-anchor="end" textLength="29.1" lengthAdjust="spacingAndGlyphs" style="stroke:#262626;stroke-width:0.8px">240</text>
<text x="969.5" y="1201.0" font-size="13.5" style="stroke:#262626;stroke-width:0.4px" textLength="29" lengthAdjust="spacingAndGlyphs">+145</text>
<text x="969.5" y="1218.0" font-size="13.5" style="stroke:#262626;stroke-width:0.4px" textLength="14.5" lengthAdjust="spacingAndGlyphs">+0</text>
<text class="b" style="stroke-width:1px" x="1024.0" y="1105.5" font-size="21">T</text>
<text x="1062.0" y="1109.0" font-size="17" textLength="10.5" lengthAdjust="spacingAndGlyphs" style="stroke:#262626;stroke-width:0.8px">=</text>
<text x="1159.0" y="1106.5" font-size="24" text-anchor="end" textLength="29.1" lengthAdjust="spacingAndGlyphs" style="stroke:#262626;stroke-width:0.8px">165</text>
<text class="b" style="stroke-width:1px" x="1024.0" y="1142.0" font-size="21">U</text>
<text x="1062.0" y="1145.5" font-size="17" textLength="10.5" lengthAdjust="spacingAndGlyphs" style="stroke:#262626;stroke-width:0.8px">=</text>
<text x="1159.0" y="1143.0" font-size="24" text-anchor="end" textLength="29.1" lengthAdjust="spacingAndGlyphs" style="stroke:#262626;stroke-width:0.8px">440</text>
<text class="b" style="stroke-width:1px" x="1024.0" y="1180.0" font-size="21">U</text>
<text x="1045.0" y="1180.0" font-size="18" textLength="5.5" lengthAdjust="spacingAndGlyphs">1</text>
<text x="1062.0" y="1183.5" font-size="17" textLength="10.5" lengthAdjust="spacingAndGlyphs" style="stroke:#262626;stroke-width:0.8px">=</text>
<text x="1159.0" y="1181.0" font-size="24" text-anchor="end" textLength="29.1" lengthAdjust="spacingAndGlyphs" style="stroke:#262626;stroke-width:0.8px">435</text>
<text class="b" style="stroke-width:1px" x="1024.0" y="1217.0" font-size="21">V</text>
<text x="1062.0" y="1220.5" font-size="17" textLength="10.5" lengthAdjust="spacingAndGlyphs" style="stroke:#262626;stroke-width:0.8px">=</text>
<text x="1159.0" y="1218.0" font-size="24" text-anchor="end" textLength="29.1" lengthAdjust="spacingAndGlyphs" style="stroke:#262626;stroke-width:0.8px">385</text>
<text class="b" style="stroke-width:1px" x="1179.0" y="1105.5" font-size="21">W</text>
<text x="1226.0" y="1109.0" font-size="17" textLength="10.5" lengthAdjust="spacingAndGlyphs" style="stroke:#262626;stroke-width:0.8px">=</text>
<text x="1319" y="1106.5" font-size="24" text-anchor="end" textLength="46" lengthAdjust="spacingAndGlyphs" style="stroke:#262626;stroke-width:0.8px">145,6</text>
<text class="b" style="stroke-width:1px" x="1180.0" y="1180.0" font-size="21">X</text>
<text x="1226.0" y="1183.5" font-size="17" textLength="10.5" lengthAdjust="spacingAndGlyphs" style="stroke:#262626;stroke-width:0.8px">=</text>
<text x="1318.5" y="1181.0" font-size="24" text-anchor="end" textLength="29.1" lengthAdjust="spacingAndGlyphs" style="stroke:#262626;stroke-width:0.8px">320</text>
<text class="b" style="stroke-width:1px" x="1180.0" y="1217.0" font-size="21">X</text>
<text x="1204.0" y="1217.0" font-size="18" textLength="5.5" lengthAdjust="spacingAndGlyphs">1</text>
<text x="1226.0" y="1220.5" font-size="17" textLength="10.5" lengthAdjust="spacingAndGlyphs" style="stroke:#262626;stroke-width:0.8px">=</text>
<text x="1318.5" y="1218.0" font-size="24" text-anchor="end" textLength="29.1" lengthAdjust="spacingAndGlyphs" style="stroke:#262626;stroke-width:0.8px">335</text>
</g>
<text x="432" y="1051.5" font-size="17" text-anchor="middle" textLength="78" lengthAdjust="spacingAndGlyphs">Ubelastet</text>
<text x="601" y="1049" font-size="17" text-anchor="middle" textLength="67" lengthAdjust="spacingAndGlyphs">Belastet</text>
</svg>
</body>
</html>
